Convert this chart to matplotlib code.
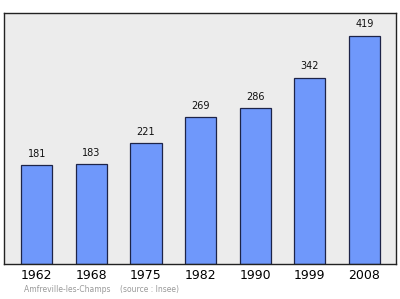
import matplotlib
matplotlib.use("Agg")
import matplotlib.pyplot as plt

years = ["1962", "1968", "1975", "1982", "1990", "1999", "2008"]
population = [181, 183, 221, 269, 286, 342, 419]

fig = plt.figure(figsize=(4, 2.99), dpi=100)
ax = fig.add_axes([0.01, 0.117, 0.98, 0.839])
ax.set_facecolor("#ececec")

pos = range(len(years))
ax.bar(pos, population, width=0.57, color="#6f98fb", edgecolor="#1d2448", linewidth=0.9)
for x, v in zip(pos, population):
    ax.text(x, v + 12, str(v), ha="center", va="bottom", fontsize=7, color="#111111")

ax.set_xlim(-0.6, 6.58)
ax.set_ylim(0, 460)
ax.set_yticks([])
ax.set_xticks(list(pos))
ax.set_xticklabels(years, fontsize=9)
ax.tick_params(axis="x", length=0, pad=3.5)
for s in ax.spines.values():
    s.set_color("#222222")
    s.set_linewidth(1.0)

fig.text(0.06, 0.022, "Amfreville-les-Champs    (source : Insee)", fontsize=5.5, color="#999999")

fig.savefig("out.png", dpi=100)
